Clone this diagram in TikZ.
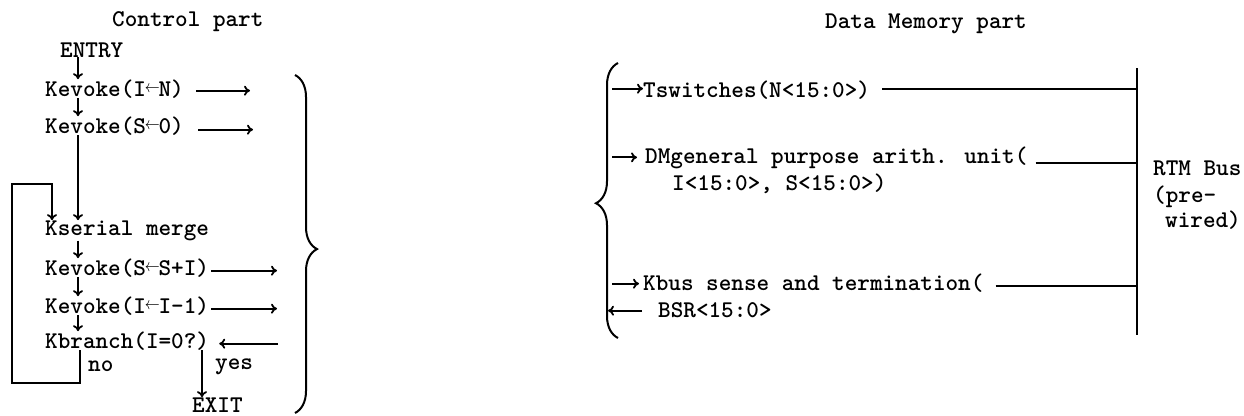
\documentclass[tikz,border=0pt]{standalone}
\usepackage{graphicx}
\usetikzlibrary{arrows.meta,decorations.pathreplacing}
% short left arrow that takes one typewriter cell
\newcommand\lar{\makebox[0.525em]{\raisebox{0.14em}{\scalebox{0.6}[0.7]{$\boldsymbol{\leftarrow}$}}}}
\newcommand\boldsymbol[1]{\mathbf{#1}}
\tikzset{
  txt/.style={anchor=base west,inner sep=0pt,font=\ttfamily\bfseries\fontsize{24}{26}\selectfont},
  ln/.style={line width=1.8pt},
  arr/.style={ln,-{To[length=6pt,width=10pt]}},
  brc/.style={line width=2pt,decorate,decoration={brace,amplitude=22pt,aspect=#1}}
}
\begin{document}
\begin{tikzpicture}[x=1pt,y=-1pt]
\useasboundingbox (0,0) rectangle (1244,415);

% ---------- control part ----------
\node[txt] (ctitle) at (112,27) {Control part};
\node[txt] (entry) at (60,57) {ENTRY};
\node[txt] (k1) at (45,96) {Kevoke(I\lar N)};
\node[txt] (k2) at (45,133) {Kevoke(S\lar 0)};
\node[txt] (km) at (45,235) {Kserial merge};
\node[txt] (k3) at (45,275) {Kevoke(S\lar S+I)};
\node[txt] (k4) at (45,313) {Kevoke(I\lar I-1)};
\node[txt] (kb) at (45,348) {Kbranch(I=0?)};
\node[txt] (no) at (88,371) {no};
\node[txt] (yes) at (215,369) {yes};
\node[txt] (exit) at (192,412) {EXIT};

\coordinate (xa) at (78,0);
\coordinate (xn) at (80,0);
\coordinate (xm) at (52,0);
\coordinate (xy) at (202,0);
\coordinate (lb) at (12,383);
\coordinate (lt) at (12,184);

\draw[arr] (entry.south -| xa) -- (k1.north -| xa);
\draw[arr] (k1.south -| xa) -- (k2.north -| xa);
\draw[arr] (k2.south -| xa) -- (km.north -| xa);
\draw[arr] (km.south -| xa) -- (k3.north -| xa);
\draw[arr] (k3.south -| xa) -- (k4.north -| xa);
\draw[arr] (k4.south -| xa) -- (kb.north -| xa);
\draw[arr] (kb.south -| xy) -- (exit.north -| xy);
% "no" branch loops back to the merge
\draw[arr] (kb.south -| xn) |- (lb) -- (lt) -| (km.north -| xm);

% signals to/from the data part
\coordinate (r1) at (250,0);
\coordinate (r2) at (253,0);
\coordinate (r3) at (277,0);
\coordinate (r4) at (278,0);
\draw[arr,shorten <=12pt] ([yshift=-2]k1.east) -- ([yshift=-2]k1.east -| r1);
\draw[arr,shorten <=14pt] ([yshift=-4]k2.east) -- ([yshift=-4]k2.east -| r2);
\draw[arr,shorten <=2pt] ([yshift=-3]k3.east) -- ([yshift=-3]k3.east -| r3);
\draw[arr,shorten <=2pt] ([yshift=-3]k4.east) -- ([yshift=-3]k4.east -| r3);
\draw[arr,shorten >=10pt] ([yshift=-3]kb.east -| r4) -- ([yshift=-3]kb.east);

\draw[brc=0.515] (295,75) -- (295,413);

% ---------- data memory part ----------
\node[txt] (dtitle) at (825,28) {Data Memory part};
\node[txt] (ts) at (643,97) {Tswitches(N<15:0>)};
\node[txt] (dm) at (645,163) {DMgeneral purpose arith. unit(};
\node[txt] (dm2) at (672,190) {I<15:0>, S<15:0>)};
\node[txt] (kbus) at (643,290) {Kbus sense and termination(};
\node[txt] (bsr) at (658,317) {BSR<15:0>};
\node[txt] (rtm) at (1153,175) {RTM Bus};
\node[txt] (pre) at (1153,202) {(pre-};
\node[txt] (wired) at (1165,227) {wired)};

\draw[brc=0.49] (618,338) -- (618,63);

% RTM bus
\coordinate (bt) at (1137,68);
\coordinate (bb) at (1137,335);
\draw[ln] (bt) -- (bb);

\coordinate (ll) at (612,0);
\coordinate (lr) at (608,0);
\draw[arr] ([yshift=1]ts.west -| ll) -- ([yshift=1]ts.west);
\draw[arr,shorten >=8pt] (dm.west -| ll) -- (dm.west);
\draw[arr,shorten >=4pt] ([yshift=-1]kbus.west -| ll) -- ([yshift=-1]kbus.west);
\draw[arr,shorten <=16pt] ([yshift=-1]bsr.west) -- ([yshift=-1]bsr.west -| lr);

\draw[ln,shorten <=12pt] ([yshift=1]ts.east) -- ([yshift=1]ts.east -| bt);
\draw[ln,shorten <=8pt] ([yshift=-6]dm.east) -- ([yshift=-6]dm.east -| bt);
\draw[ln,shorten <=12pt] ([yshift=-3]kbus.east) -- ([yshift=-3]kbus.east -| bt);
\end{tikzpicture}
\end{document}
